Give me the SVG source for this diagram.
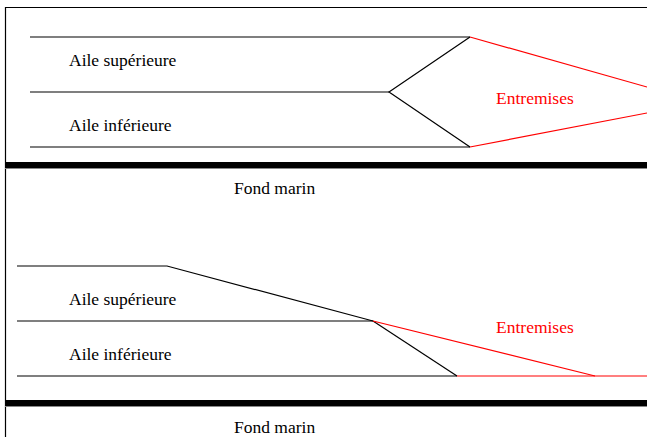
<svg xmlns="http://www.w3.org/2000/svg" width="647" height="437" viewBox="0 0 647 437">
<style>
.t{font-family:"Liberation Serif","Times New Roman",serif;font-size:17.5px;fill:#000}
.r{fill:#ff0000}
.k{stroke:#000;stroke-width:1.2;fill:none}
.red{stroke:#ff0000;stroke-width:1.2;fill:none}
.bar{fill:#000}
</style>
<rect width="647" height="437" fill="#fff"/>
<g id="border">
<path class="k" d="M5.5,437 V7.5 H647" stroke="#333" stroke-width="1.5"/>
</g>
<g id="seabed1">
<rect class="bar" x="5" y="162" width="642" height="6"/>
<line x1="5" y1="168.5" x2="647" y2="168.5" stroke="#888" stroke-width="1"/>
<text class="t" x="234" y="194">Fond marin</text>
</g>
<g id="seabed2">
<rect class="bar" x="5" y="400" width="642" height="6"/>
<line x1="5" y1="406.5" x2="647" y2="406.5" stroke="#888" stroke-width="1"/>
<text class="t" x="234" y="433">Fond marin</text>
</g>
<g id="labels">
<text class="t" x="69" y="66">Aile supérieure</text>
<text class="t" x="69" y="131">Aile inférieure</text>
<text class="t r" x="496" y="104">Entremises</text>
<text class="t" x="69" y="305">Aile supérieure</text>
<text class="t" x="69" y="360">Aile inférieure</text>
<text class="t r" x="496" y="333">Entremises</text>
</g>
<g id="connectors">
<line class="k" x1="30" y1="37" x2="470" y2="37"/>
<line class="k" x1="30" y1="92" x2="389" y2="92"/>
<line class="k" x1="30" y1="147" x2="470" y2="147"/>
<polyline class="k" points="470,37 389,92 470,147"/>
<line class="red" x1="470" y1="37" x2="647" y2="87"/>
<line class="red" x1="470" y1="147" x2="647" y2="113"/>
<polyline class="k" points="17,266 167,266 373,321"/>
<line class="k" x1="17" y1="321" x2="373" y2="321"/>
<line class="k" x1="373" y1="321" x2="457" y2="376"/>
<line class="k" x1="17" y1="376" x2="457" y2="376"/>
<line class="red" x1="457" y1="376" x2="647" y2="376"/>
<line class="red" x1="373" y1="321" x2="595" y2="376"/>
</g>
</svg>
